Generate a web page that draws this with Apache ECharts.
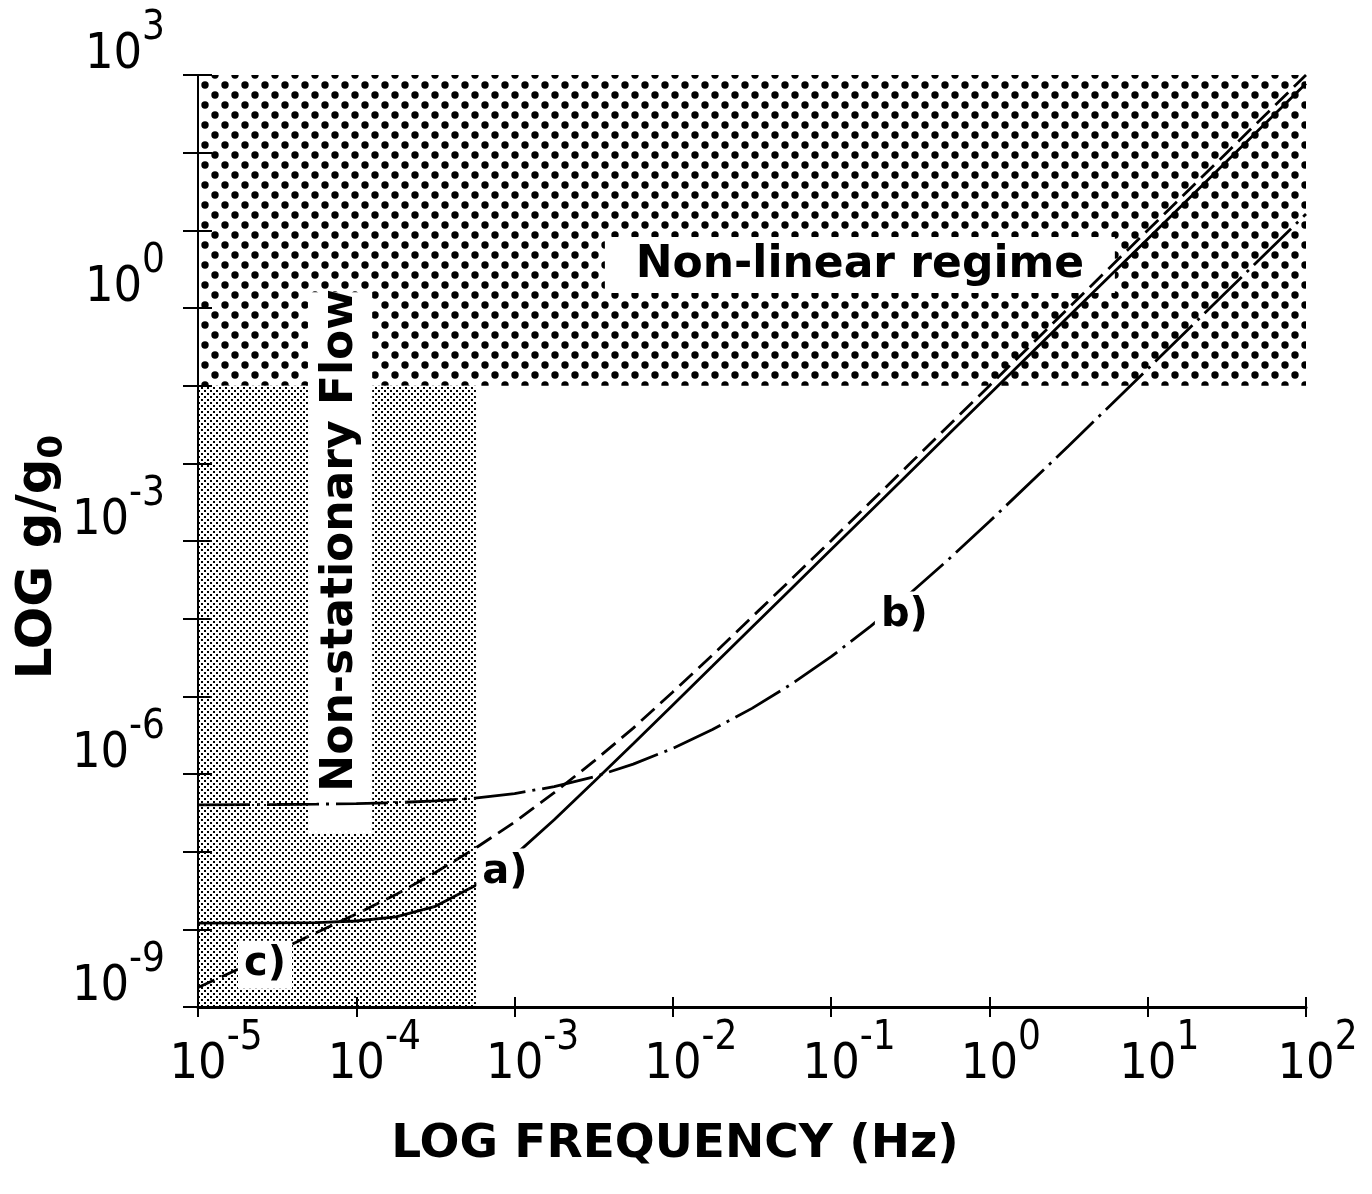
<!DOCTYPE html>
<html><head><meta charset="utf-8">
<script src="https://cdn.jsdelivr.net/npm/echarts@6/dist/echarts.min.js"></script>
<style>html,body{margin:0;padding:0;background:#fff}#c{width:1372px;height:1194px}</style>
</head><body><div id="c"></div>
<script>
// ---- data ----
const freqHz = [1e-5, 3.16e-5, 5.62e-5, 1e-4, 1.78e-4, 3.16e-4, 5.62e-4, 1e-3, 1.78e-3, 3.16e-3, 5.62e-3, 1e-2, 1.78e-2, 3.16e-2, 5.62e-2, 0.1, 0.178, 0.316, 0.562, 1, 3.16, 10, 31.6, 100];
// a) solid
const curveA = [1.2e-8, 1.21e-8, 1.22e-8, 1.28e-8, 1.45e-8, 1.98e-8, 3.65e-8, 8.96e-8, 2.57e-7, 7.88e-7, 2.46e-6, 7.76e-6, 2.45e-5, 7.76e-5, 2.45e-4, 7.76e-4, 2.45e-3, 7.76e-3, 2.45e-2, 7.76e-2, 0.776, 7.76, 77.6, 776];
// b) dash-dot
const curveB = [4.0e-7, 4.05e-7, 4.09e-7, 4.16e-7, 4.28e-7, 4.5e-7, 4.9e-7, 5.6e-7, 6.87e-7, 9.16e-7, 1.34e-6, 2.14e-6, 3.73e-6, 7.0e-6, 1.44e-5, 3.24e-5, 8.0e-5, 2.12e-4, 6.0e-4, 1.78e-3, 1.67e-2, 0.164, 1.63, 16.2];
// c) dashed
const curveC = [1.78e-9, 5.2e-9, 9.1e-9, 1.58e-8, 2.8e-8, 5.4e-8, 1.1e-7, 2.4e-7, 5.75e-7, 1.45e-6, 3.9e-6, 1.14e-5, 3.41e-5, 1.05e-4, 3.24e-4, 1.01e-3, 3.19e-3, 1.0e-2, 3.17e-2, 0.1, 1.0, 10, 100, 1000];

const xTickExp = ['-5', '-4', '-3', '-2', '-1', '0', '1', '2'];
const yTickExp = {'-9': '-9', '-6': '-6', '-3': '-3', '0': '0', '3': '3'};

// regions [f0, g0, f1, g1]
const nonLinearRegion = [1e-5, 0.1, 1e2, 1e3];
const nonStationaryRegion = [1e-5, 1e-9, 5.7e-4, 0.1];
const nonLinearBox = [3.72e-3, 1.56, 6.2, 8.2];
const nonStationaryBox = [4.95e-5, 1.69e-7, 1.26e-4, 1.6];

const regionTexts = ['Non-linear regime', 'Non-stationary Flow'];
const regionTextPos = [[0.152, 3.57], [7.9e-5, 1.02e-3]];
const curveLabels = ['a)', 'b)', 'c)'];
const curveLabelPos = [[8.7e-4, 5.4e-8], [0.29, 1.1e-4], [2.65e-5, 3.5e-9]];

// ---- patterns ----
function dotPattern(size, dots, r) {
  const c = document.createElement('canvas');
  c.width = size; c.height = size;
  const g = c.getContext('2d');
  g.fillStyle = '#fff'; g.fillRect(0, 0, size, size);
  g.fillStyle = '#000';
  dots.forEach(([x, y]) => { g.beginPath(); g.arc(x, y, r, 0, Math.PI * 2); g.fill(); });
  return c;
}
function squarePattern(size, dots, s) {
  const c = document.createElement('canvas');
  c.width = size; c.height = size;
  const g = c.getContext('2d');
  g.fillStyle = '#fff'; g.fillRect(0, 0, size, size);
  g.fillStyle = '#000';
  dots.forEach(([x, y]) => g.fillRect(x, y, s, s));
  return c;
}
const densePat = dotPattern(20, [[5, 5], [15, 15]], 3.7);
const lightPat = squarePattern(6, [[0, 0], [3, 3]], 2);

const tickFont = '"DejaVu Sans Condensed", "DejaVu Sans", sans-serif';
const boldFont = '"DejaVu Sans", "Liberation Sans", sans-serif';

const tickRich = {
  p1: {width: 23, fontSize: 10, lineHeight: 10},
  p2: {width: 36, fontSize: 10, lineHeight: 10},
  b: {fontFamily: tickFont, fontSize: 50, lineHeight: 40, color: '#000'},
  s: {fontFamily: tickFont, fontSize: 40, lineHeight: 40, padding: [0, 0, 52, 0], color: '#000'}
};
const expOf = v => String(Math.round(Math.log10(v)));

const pairs = ys => freqHz.map((f, i) => [f, ys[i]]);
const rect = (r, style) => [{xAxis: r[0], yAxis: r[1], itemStyle: style}, {xAxis: r[2], yAxis: r[3]}];

const baseX = {type: 'log', logBase: 10, min: 1e-5, max: 1e2, interval: 1, z: 10, splitLine: {show: false}, minorTick: {show: false}};
const baseY = {type: 'log', logBase: 10, min: 1e-9, max: 1e3, interval: 1, z: 10, splitLine: {show: false}, minorTick: {show: false}};

const option = {
  backgroundColor: '#fff',
  animation: false,
  grid: {left: 198, right: 66, top: 75, bottom: 187, containLabel: false, outerBoundsMode: 'none'},
  xAxis: [
    Object.assign({}, baseX, {
      position: 'bottom',
      axisLine: {show: true, lineStyle: {color: '#000', width: 3}},
      axisTick: {show: true, inside: false, length: 10, lineStyle: {color: '#000', width: 2}},
      axisLabel: {
        show: true, margin: 38, showMinLabel: true, showMaxLabel: true, hideOverlap: false,
        formatter: v => {
          const e = xTickExp[Math.round(Math.log10(v)) + 5];
          return '{' + (e.length > 1 ? 'p2' : 'p1') + '| }{b|10}{s|' + e + '}';
        },
        rich: tickRich
      },
      name: 'LOG FREQUENCY (Hz)', nameLocation: 'middle', nameGap: 114, nameMoveOverlap: false,
      nameTextStyle: {fontFamily: boldFont, fontWeight: 'bold', fontSize: 47, color: '#000', padding: [0, 154, 0, 0]}
    }),
    Object.assign({}, baseX, {
      position: 'bottom',
      axisLine: {show: false},
      axisTick: {show: true, inside: true, length: 10, lineStyle: {color: '#000', width: 2}},
      axisLabel: {show: false}
    })
  ],
  yAxis: [
    Object.assign({}, baseY, {
      position: 'left',
      axisLine: {show: true, lineStyle: {color: '#000', width: 2}},
      axisTick: {show: true, inside: false, length: 15, lineStyle: {color: '#000', width: 2}},
      axisLabel: {
        show: true, margin: 33, verticalAlign: 'bottom', showMinLabel: true, showMaxLabel: true, hideOverlap: false,
        formatter: v => {
          const e = yTickExp[expOf(v)];
          return e === undefined ? '' : '{b|10}{s|' + e + '}';
        },
        rich: tickRich
      },
      name: '{m|LOG g/g}{sub|0}', nameLocation: 'middle', nameGap: 135, nameRotate: 90, nameMoveOverlap: false,
      nameTextStyle: {
        padding: [0, 32, 0, 0],
        rich: {
          m: {fontFamily: boldFont, fontWeight: 'bold', fontSize: 50, lineHeight: 50, color: '#000'},
          sub: {fontFamily: boldFont, fontWeight: 'bold', fontSize: 34, lineHeight: 50, padding: [30, 0, 0, 0], color: '#000'}
        }
      }
    }),
    Object.assign({}, baseY, {
      position: 'left',
      axisLine: {show: false},
      axisTick: {show: true, inside: true, length: 14, lineStyle: {color: '#000', width: 2}},
      axisLabel: {show: false}
    })
  ],
  series: [
    {
      type: 'line', name: 'regions', data: [], z: 1, silent: true,
      markArea: {
        silent: true,
        label: {show: false},
        data: [
          rect(nonLinearRegion, {color: {image: densePat, repeat: 'repeat'}, opacity: 1}),
          rect(nonStationaryRegion, {color: {image: lightPat, repeat: 'repeat'}, opacity: 1})
        ]
      }
    },
    {
      type: 'line', name: 'a', data: pairs(curveA), z: 3, showSymbol: false, smooth: false,
      lineStyle: {color: '#000', width: 2.8, type: 'solid'}
    },
    {
      type: 'line', name: 'b', data: pairs(curveB), z: 3, showSymbol: false, smooth: false,
      lineStyle: {color: '#000', width: 2.8, type: [52, 7, 3, 7]}
    },
    {
      type: 'line', name: 'c', data: pairs(curveC), z: 3, showSymbol: false, smooth: false,
      lineStyle: {color: '#000', width: 2.8, type: [18, 8]}
    },
    {
      type: 'line', name: 'boxes', data: [], z: 5, silent: true,
      markArea: {
        silent: true, label: {show: false},
        data: [
          rect(nonLinearBox, {color: '#fff', opacity: 1}),
          rect(nonStationaryBox, {color: '#fff', opacity: 1})
        ]
      }
    },
    {
      type: 'scatter', name: 'regionText', z: 6, symbolSize: 0, silent: true,
      itemStyle: {opacity: 1},
      data: regionTexts.map((t, i) => ({name: t, value: regionTextPos[i], label: {rotate: i === 1 ? 90 : 0}})),
      label: {show: true, position: 'inside', formatter: p => p.name, fontFamily: boldFont, fontWeight: 'bold', fontSize: 44, color: '#000', opacity: 1}
    },
    {
      type: 'scatter', name: 'curveLabels', z: 7, symbolSize: 0, silent: true,
      itemStyle: {opacity: 1},
      data: curveLabels.map((t, i) => ({name: t, value: curveLabelPos[i]})),
      label: {show: true, position: 'inside', formatter: p => p.name, fontFamily: boldFont, fontWeight: 'bold', fontSize: 40, color: '#000', opacity: 1, backgroundColor: '#fff', padding: [4, 6]}
    }
  ]
};
const chart = echarts.init(document.getElementById('c'), null, {renderer: 'canvas'});
chart.setOption(option);
</script>
</body></html>
